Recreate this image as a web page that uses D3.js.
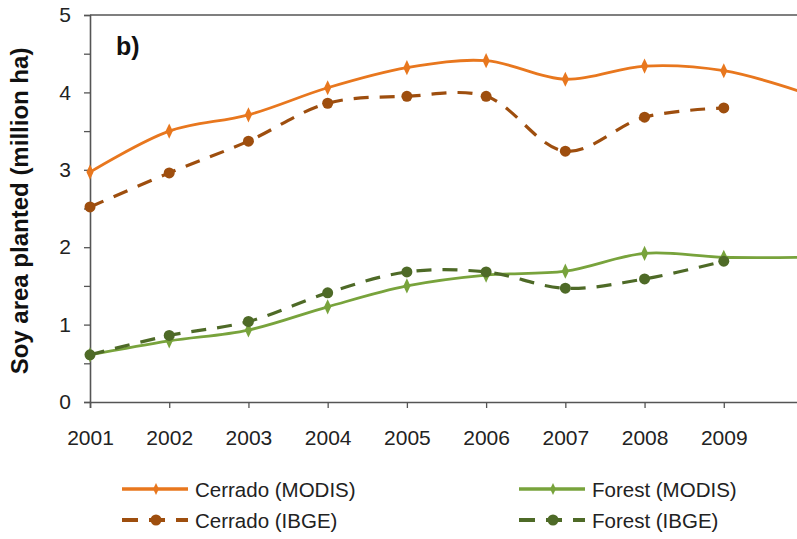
<!DOCTYPE html>
<html>
<head>
<meta charset="utf-8">
<script src="https://cdn.jsdelivr.net/npm/d3@7"></script>
<style>
  body { margin: 0; background: #fff; }
  svg { font-family: "Liberation Sans", Arial, sans-serif; display: block; }
</style>
</head>
<body>
<svg id="graphic" width="797" height="539"></svg>
<script>
const years = [2001, 2002, 2003, 2004, 2005, 2006, 2007, 2008, 2009, 2010];
const cerradoModis = [2.97, 3.50, 3.71, 4.06, 4.32, 4.41, 4.17, 4.34, 4.28, 4.00];
const cerradoIbge = [2.52, 2.96, 3.37, 3.86, 3.95, 3.95, 3.24, 3.68, 3.80];
const forestModis = [0.61, 0.79, 0.93, 1.23, 1.50, 1.64, 1.69, 1.92, 1.87, 1.87];
const forestIbge = [0.61, 0.86, 1.04, 1.41, 1.68, 1.68, 1.47, 1.59, 1.82];
const yTicks = [0, 1, 2, 3, 4, 5];

const series = [
  {name: 'Cerrado (MODIS)', values: cerradoModis, color: '#E8771E', dash: null, marker: 'diamond', width: 2.8},
  {name: 'Forest (MODIS)', values: forestModis, color: '#78A33C', dash: null, marker: 'diamond', width: 2.8},
  {name: 'Cerrado (IBGE)', values: cerradoIbge, color: '#9E4E0E', dash: '15,11', marker: 'circle', width: 3.2},
  {name: 'Forest (IBGE)', values: forestIbge, color: '#4E6A27', dash: '15,11', marker: 'circle', width: 3.2},
];

const svg = d3.select('#graphic');

const x = d3.scaleLinear().domain([2001, 2010]).range([90, 803]);
const y = d3.scaleLinear().domain([0, 5]).range([402, 15]);

// top border
svg.append('line')
    .attr('x1', 90).attr('x2', 797)
    .attr('y1', y(5)).attr('y2', y(5))
    .attr('stroke', '#555').attr('stroke-width', 1.6);

const yAxis = d3.axisLeft(y)
    .tickValues(d3.range(0, 5.01, 0.5))
    .tickSize(6)
    .tickFormat((d) => (yTicks.includes(d) ? d : ''));

svg.append('g')
    .attr('transform', `translate(${x(2001)},0)`)
    .call(yAxis)
    .call((g) => g.select('.domain').attr('stroke', '#555').attr('stroke-width', 1.6))
    .call((g) => g.selectAll('.tick line').attr('stroke', '#555').attr('stroke-width', 1.3))
    .call((g) => g.selectAll('.tick text')
        .attr('x', -19).attr('font-size', 21).attr('fill', '#222'));

const xAxis = d3.axisBottom(x)
    .tickValues(years)
    .tickSize(6)
    .tickFormat((d) => (d < 2010 ? d : ''));

svg.append('g')
    .attr('transform', `translate(0,${y(0)})`)
    .call(xAxis)
    .call((g) => g.select('.domain').attr('stroke', '#555').attr('stroke-width', 1.6))
    .call((g) => g.selectAll('.tick line').attr('stroke', '#555').attr('stroke-width', 1.3))
    .call((g) => g.selectAll('.tick text')
        .attr('y', 43).attr('dy', 0).attr('font-size', 21).attr('fill', '#222'));

// y title
svg.append('text')
    .attr('transform', `translate(28,211) rotate(-90)`)
    .attr('text-anchor', 'middle')
    .attr('font-size', 24)
    .attr('font-weight', 'bold')
    .attr('fill', '#111')
    .text('Soy area planted (million ha)');

svg.append('text')
    .attr('x', 116).attr('y', 55)
    .attr('font-size', 25)
    .attr('font-weight', 'bold')
    .attr('fill', '#111')
    .text('b)');

const line = d3.line()
    .x((d, i) => x(years[i]))
    .y((d) => y(d))
    .curve(d3.curveCatmullRom.alpha(0.5));

const diamond = d3.symbol().type(d3.symbolDiamond).size(55);

function drawMarker(g, s, cx, cy, k = 1) {
  if (s.marker === 'diamond') {
    g.append('path')
        .attr('d', diamond())
        .attr('transform', `translate(${cx},${cy}) scale(${0.9 * k},${1.1 * k})`)
        .attr('fill', s.color);
  } else {
    g.append('circle')
        .attr('cx', cx).attr('cy', cy).attr('r', 5.5 * k)
        .attr('fill', s.color);
  }
}

const plot = svg.append('g');

series.forEach((s) => {
  plot.append('path')
      .datum(s.values)
      .attr('d', line)
      .attr('fill', 'none')
      .attr('stroke', s.color)
      .attr('stroke-width', s.width)
      .attr('stroke-dasharray', s.dash);
  s.values.forEach((v, i) => drawMarker(plot, s, x(years[i]), y(v)));
});

// legend
const legendItems = [
  {s: series[0], lx: 122, ly: 489},
  {s: series[1], lx: 519, ly: 489},
  {s: series[2], lx: 122, ly: 520},
  {s: series[3], lx: 519, ly: 520},
];

const legend = svg.append('g');
legendItems.forEach(({s, lx, ly}) => {
  legend.append('line')
      .attr('x1', lx).attr('x2', lx + 66)
      .attr('y1', ly).attr('y2', ly)
      .attr('stroke', s.color)
      .attr('stroke-width', s.dash ? 4 : 3.5)
      .attr('stroke-dasharray', s.dash ? '16,11' : null);
  drawMarker(legend, s, lx + 34, ly, s.dash ? 1 : 0.8);
  legend.append('text')
      .attr('x', lx + 73).attr('y', ly + 8)
      .attr('font-size', 20.5)
      .attr('fill', '#222')
      .text(s.name);
});
</script>
</body>
</html>
